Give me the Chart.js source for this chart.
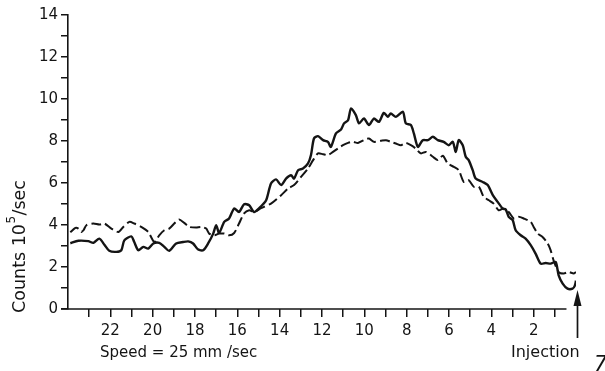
<!DOCTYPE html>
<html>
<head>
<meta charset="utf-8">
<script src="https://cdn.jsdelivr.net/npm/chart.js@4"></script>
<style>
  html, body { margin: 0; padding: 0; background: #fff; }
  #chart { display: block; }
</style>
</head>
<body>
<canvas id="chart" width="605" height="371"></canvas>
<script>
// time before injection (s)
const solidX = [23.89, 23.51, 23.04, 22.80, 22.52, 22.28, 22.05, 21.72, 21.48, 21.34, 21.01, 20.87, 20.68, 20.44, 20.21, 19.97, 19.69, 19.45, 19.22, 18.89, 18.56, 18.32, 18.09, 17.85, 17.61, 17.38, 17.14, 17.00, 16.86, 16.62, 16.39, 16.15, 15.92, 15.68, 15.44, 15.21, 14.97, 14.64, 14.41, 14.17, 13.93, 13.70, 13.46, 13.32, 13.13, 12.90, 12.66, 12.52, 12.38, 12.19, 11.95, 11.72, 11.58, 11.34, 11.10, 10.96, 10.77, 10.63, 10.40, 10.25, 10.02, 9.78, 9.55, 9.31, 9.08, 8.89, 8.75, 8.51, 8.18, 8.04, 7.80, 7.66, 7.47, 7.24, 7.00, 6.76, 6.53, 6.25, 6.01, 5.82, 5.68, 5.54, 5.35, 5.21, 5.07, 4.88, 4.74, 4.41, 4.17, 3.93, 3.70, 3.46, 3.32, 3.18, 2.99, 2.85, 2.61, 2.38, 2.14, 1.91, 1.67, 1.43, 1.20, 0.96, 0.82, 0.63, 0.40, 0.16, 0.06, 0.00];
const solidY = [3.13, 3.25, 3.23, 3.15, 3.35, 3.06, 2.77, 2.72, 2.80, 3.27, 3.46, 3.19, 2.80, 2.96, 2.88, 3.12, 3.15, 2.96, 2.77, 3.12, 3.19, 3.22, 3.12, 2.83, 2.80, 3.12, 3.59, 3.99, 3.62, 4.15, 4.31, 4.79, 4.62, 4.99, 4.94, 4.62, 4.80, 5.18, 5.98, 6.17, 5.90, 6.21, 6.37, 6.21, 6.61, 6.69, 6.93, 7.33, 8.12, 8.23, 8.04, 7.96, 7.72, 8.36, 8.55, 8.84, 8.99, 9.55, 9.23, 8.84, 9.07, 8.76, 9.07, 8.91, 9.34, 9.15, 9.31, 9.15, 9.39, 8.84, 8.76, 8.36, 7.72, 8.04, 8.04, 8.20, 8.04, 7.96, 7.80, 7.96, 7.48, 8.04, 7.80, 7.25, 7.09, 6.61, 6.21, 6.05, 5.90, 5.42, 5.10, 4.78, 4.74, 4.39, 4.23, 3.75, 3.51, 3.35, 3.04, 2.64, 2.16, 2.19, 2.16, 2.24, 1.60, 1.21, 0.97, 0.97, 1.10, 1.35];

const dashedX = [23.89, 23.65, 23.51, 23.37, 23.27, 23.13, 22.80, 22.52, 22.28, 21.95, 21.62, 21.39, 21.10, 20.87, 20.54, 20.21, 19.92, 19.69, 19.45, 19.22, 18.98, 18.75, 18.51, 18.27, 17.95, 17.71, 17.47, 17.33, 17.09, 16.86, 16.62, 16.39, 16.15, 15.92, 15.68, 15.44, 15.21, 14.88, 14.41, 13.93, 13.60, 13.32, 12.99, 12.66, 12.42, 12.19, 11.95, 11.72, 11.48, 11.25, 11.01, 10.77, 10.54, 10.30, 10.02, 9.78, 9.55, 9.22, 8.98, 8.75, 8.51, 8.27, 8.04, 7.80, 7.57, 7.33, 7.09, 6.76, 6.53, 6.29, 6.06, 5.77, 5.54, 5.30, 5.07, 4.83, 4.59, 4.36, 4.12, 3.89, 3.65, 3.42, 3.18, 2.94, 2.71, 2.47, 2.14, 2.00, 1.81, 1.58, 1.34, 1.20, 1.06, 0.82, 0.58, 0.35, 0.11, 0.00];
const dashedY = [3.65, 3.86, 3.83, 3.67, 3.75, 3.99, 4.07, 4.02, 4.07, 3.83, 3.67, 3.91, 4.15, 4.07, 3.91, 3.67, 3.19, 3.51, 3.75, 3.83, 4.07, 4.26, 4.10, 3.91, 3.88, 3.91, 3.83, 3.59, 3.51, 3.59, 3.59, 3.51, 3.62, 4.07, 4.55, 4.70, 4.62, 4.80, 5.02, 5.42, 5.74, 5.90, 6.29, 6.69, 7.09, 7.41, 7.37, 7.33, 7.48, 7.64, 7.80, 7.91, 7.96, 7.91, 8.04, 8.12, 7.96, 8.01, 8.04, 7.96, 7.88, 7.80, 7.91, 7.80, 7.64, 7.41, 7.48, 7.25, 7.09, 7.30, 6.93, 6.77, 6.61, 6.05, 6.13, 5.82, 5.82, 5.34, 5.18, 5.02, 4.70, 4.78, 4.62, 4.31, 4.39, 4.31, 4.15, 3.91, 3.59, 3.43, 3.12, 2.80, 2.32, 1.76, 1.69, 1.76, 1.69, 1.76];

const xTickLabels = [22, 20, 18, 16, 14, 12, 10, 8, 6, 4, 2];
const yTickLabels = [0, 2, 4, 6, 8, 10, 12, 14];

const INK = '#141414';
const FONT = "'DejaVu Sans', sans-serif";

const toPoints = (xs, ys) => xs.map((x, i) => ({x: x, y: ys[i]}));

// axis line, arrow and free text
const decorations = {
  id: 'decorations',
  afterDraw(chart) {
    const ctx = chart.ctx;
    const xs = chart.scales.x;
    const area = chart.chartArea;
    ctx.save();
    ctx.strokeStyle = INK;
    ctx.fillStyle = INK;

    // x axis line stops a little short of injection
    ctx.lineWidth = 1.6;
    ctx.beginPath();
    ctx.moveTo(area.left - 7, area.bottom);
    ctx.lineTo(xs.getPixelForValue(0.45), area.bottom);
    ctx.stroke();

    // injection arrow
    const ax = xs.getPixelForValue(0) + 1.5;
    ctx.lineWidth = 1.7;
    ctx.beginPath();
    ctx.moveTo(ax, 338);
    ctx.lineTo(ax, 300);
    ctx.stroke();
    ctx.beginPath();
    ctx.moveTo(ax, 290);
    ctx.lineTo(ax - 4, 306);
    ctx.lineTo(ax + 4, 306);
    ctx.closePath();
    ctx.fill();

    ctx.textBaseline = 'middle';
    ctx.textAlign = 'left';
    ctx.font = '15px ' + FONT;
    ctx.fillText('Speed = 25 mm /sec', 100, 353);
    ctx.font = '16px ' + FONT;
    ctx.fillText('Injection', 511, 353);

    ctx.font = 'italic 21px ' + FONT;
    ctx.fillText('7', 594, 366);

    // y title with superscript
    ctx.translate(20, 247);
    ctx.rotate(-Math.PI / 2);
    ctx.font = '17.5px ' + FONT;
    const a = 'Counts 10', b = '5', c = '/sec';
    const wa = ctx.measureText(a).width;
    const wc = ctx.measureText(c).width;
    ctx.font = '12px ' + FONT;
    const wb = ctx.measureText(b).width;
    let x0 = -(wa + wb + wc) / 2;
    ctx.font = '17.5px ' + FONT;
    ctx.fillText(a, x0, 0);
    ctx.font = '12px ' + FONT;
    ctx.fillText(b, x0 + wa + 0.5, -8);
    ctx.font = '17.5px ' + FONT;
    ctx.fillText(c, x0 + wa + wb + 1, 0);
    ctx.restore();
  }
};

new Chart(document.getElementById('chart'), {
  type: 'line',
  data: {
    datasets: [
      {
        label: 'solid',
        data: toPoints(solidX, solidY),
        borderColor: INK,
        borderWidth: 2.4,
        pointRadius: 0,
        tension: 0.25,
        fill: false
      },
      {
        label: 'dashed',
        data: toPoints(dashedX, dashedY),
        borderColor: INK,
        borderWidth: 2,
        borderDash: [10, 4],
        pointRadius: 0,
        tension: 0.25,
        fill: false
      }
    ]
  },
  options: {
    responsive: false,
    devicePixelRatio: 1,
    animation: false,
    layout: {padding: {top: 15, right: 29, left: 0, bottom: 0}},
    plugins: {legend: {display: false}, tooltip: {enabled: false}},
    scales: {
      x: {
        type: 'linear',
        reverse: true,
        min: 0,
        max: 24,
        afterFit: s => { s.height = 62; },
        border: {display: false},
        grid: {
          drawOnChartArea: false,
          tickLength: 8,
          lineWidth: 1.5,
          color: c => (c.tick && (c.tick.value === 0 || c.tick.value === 24)) ? 'rgba(0,0,0,0)' : INK
        },
        ticks: {
          stepSize: 1,
          autoSkip: false,
          maxRotation: 0,
          padding: 5,
          color: INK,
          font: {family: FONT, size: 15},
          callback: v => xTickLabels.includes(v) ? String(v) : ''
        }
      },
      y: {
        min: 0,
        max: 14,
        afterFit: s => { s.width = 68; },
        border: {display: true, color: INK, width: 1.6},
        grid: {drawOnChartArea: false, tickLength: 7, lineWidth: 1.5, color: INK},
        ticks: {
          stepSize: 1,
          autoSkip: false,
          padding: 3,
          color: INK,
          font: {family: FONT, size: 15},
          callback: v => yTickLabels.includes(v) ? String(v) : ''
        }
      }
    }
  },
  plugins: [decorations]
});
</script>
</body>
</html>
